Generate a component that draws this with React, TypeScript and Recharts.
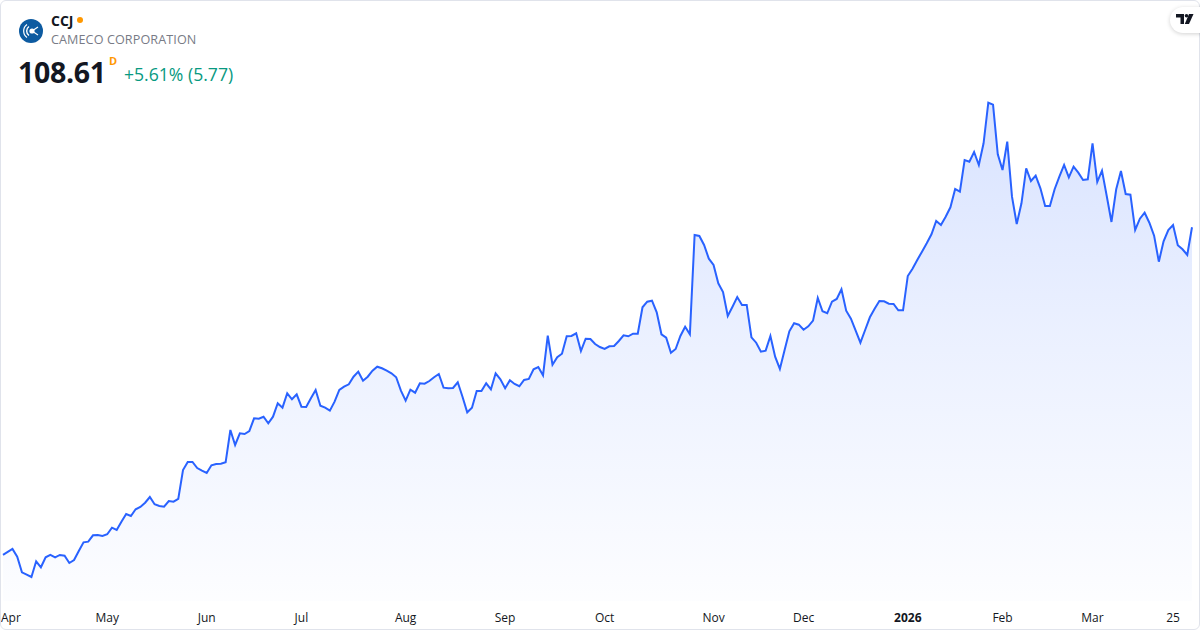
import React from 'react';
import { AreaChart, Area, XAxis, YAxis } from 'recharts';

// Daily closes of CCJ, Mar 31 2025 -> Mar 31 2026 (trading-day index)
const prices: number[] = [
  40.78, 41.40, 42.02, 40.42, 37.19, 36.72, 36.22, 39.47, 38.23, 40.30,
  40.78, 40.30, 40.78, 40.63, 39.12, 39.74, 41.60, 43.40, 43.53, 44.85,
  44.92, 44.71, 45.06, 46.43, 45.95, 47.67, 49.26, 48.85, 50.24, 50.71,
  51.60, 52.78, 51.27, 50.92, 50.77, 51.95, 51.81, 52.37, 58.37, 60.03,
  60.03, 58.78, 58.23, 57.75, 59.34, 59.61, 59.67, 59.96, 66.65, 63.55,
  65.97, 65.82, 66.44, 69.07, 68.99, 69.40, 68.04, 69.40, 72.18, 71.27,
  74.25, 73.01, 74.04, 71.47, 71.41, 73.21, 74.93, 71.68, 71.27, 70.65,
  72.51, 74.93, 75.61, 76.11, 77.68, 78.72, 76.86, 77.68, 78.93, 79.75,
  79.42, 78.93, 78.39, 77.56, 74.79, 72.72, 74.99, 74.37, 76.32, 76.23,
  76.79, 77.56, 78.24, 75.41, 75.28, 75.34, 76.52, 73.54, 70.31, 71.27,
  74.72, 74.72, 76.32, 75.08, 78.39, 77.15, 75.28, 76.94, 76.17, 75.70,
  77.00, 77.21, 79.22, 79.69, 77.97, 86.17, 80.17, 81.70, 82.44, 86.05,
  86.11, 86.67, 83.00, 85.55, 85.49, 84.45, 83.83, 83.42, 83.98, 84.04,
  85.07, 86.25, 86.05, 86.58, 86.58, 92.05, 93.21, 93.42, 91.01, 86.46,
  85.76, 82.65, 83.42, 86.11, 88.03, 86.46, 107.02, 106.81, 104.95, 102.11,
  100.81, 97.02, 95.22, 90.25, 92.17, 94.18, 92.53, 92.53, 85.84, 84.72,
  82.86, 83.07, 86.11, 81.82, 79.28, 83.21, 87.08, 88.74, 88.45, 87.41,
  88.12, 89.28, 93.97, 91.22, 90.81, 93.21, 93.77, 95.78, 91.35, 89.69,
  87.21, 84.72, 87.35, 89.98, 91.76, 93.35, 93.29, 92.79, 92.73, 91.43,
  91.43, 98.53, 100.04, 101.84, 103.56, 105.30, 107.16, 109.91, 109.09, 110.80,
  112.75, 116.54, 115.98, 122.54, 122.19, 124.20, 121.51, 126.00, 134.40, 133.99,
  123.72, 120.47, 126.33, 114.94, 109.29, 113.58, 120.82, 118.19, 119.29, 116.68,
  113.02, 113.02, 116.48, 119.08, 121.51, 118.96, 121.15, 119.91, 118.40, 118.55,
  126.00, 117.99, 120.33, 115.09, 109.71, 116.48, 120.26, 115.50, 115.36, 108.05,
  110.39, 111.63, 109.56, 106.87, 101.49, 105.71, 108.05, 109.09, 104.88, 104.06,
  102.88, 108.61,
];

const tickIdx: number[] = [1, 22, 43, 63, 85, 106, 127, 150, 169, 191, 211, 230, 247];
const tickLabels: string[] = ['Apr', 'May', 'Jun', 'Jul', 'Aug', 'Sep', 'Oct', 'Nov', 'Dec', '2026', 'Feb', 'Mar', '25'];
const boldLabels: string[] = ['2026'];

const symbol = 'CCJ';
const company = 'CAMECO CORPORATION';
const lastPrice = '108.61';
const change = '+5.61% (5.77)';

const data = prices.map((p, i) => ({ i, p }));

const FONT = '"Open Sans", "Noto Sans", sans-serif';

const Tick = (props: any) => {
  const { x, y, payload } = props;
  const k = tickIdx.indexOf(payload.value);
  const label = k >= 0 ? tickLabels[k] : '';
  const w = label.length * 7;
  const clampLeft = x - w / 2 < 1;
  return (
    <text
      x={clampLeft ? 1 : x}
      y={y + 13}
      textAnchor={clampLeft ? 'start' : 'middle'}
      fontSize={12}
      fontFamily={FONT}
      fontWeight={boldLabels.includes(label) ? 700 : 400}
      fill="#131722"
    >
      {label}
    </text>
  );
};

export default function App() {
  return (
    <div
      style={{
        position: 'relative',
        width: 1200,
        height: 630,
        background: '#ffffff',
        overflow: 'hidden',
        fontFamily: FONT,
      }}
    >
      <style>{'body{margin:0;}'}</style>
      <div
        style={{
          position: 'absolute',
          inset: 0,
          border: '1px solid #e0e3eb',
          borderRadius: 6,
          pointerEvents: 'none',
          zIndex: 3,
        }}
      />
      <div style={{ position: 'absolute', left: 0, top: 0 }}>
        <AreaChart width={1200} height={630} data={data} margin={{ top: 0, right: 8, bottom: 0, left: 3 }}>
          <defs>
            <linearGradient id="ccjFill" x1="0" y1="0" x2="0" y2="1">
              <stop offset="0%" stopColor="#2962FF" stopOpacity={0.3} />
              <stop offset="45%" stopColor="#2962FF" stopOpacity={0.16} />
              <stop offset="100%" stopColor="#2962FF" stopOpacity={0.02} />
            </linearGradient>
          </defs>
          <XAxis
            type="number"
            dataKey="i"
            domain={[0, 251]}
            ticks={tickIdx}
            interval={0}
            axisLine={false}
            tickLine={false}
            height={29}
            tick={<Tick />}
          />
          <YAxis hide domain={[31.25, 155.66]} allowDataOverflow />
          <Area
            type="linear"
            dataKey="p"
            stroke="#2962FF"
            strokeWidth={2}
            fill="url(#ccjFill)"
            isAnimationActive={false}
            dot={false}
            activeDot={false}
          />
        </AreaChart>
      </div>

      {/* header */}
      <svg style={{ position: 'absolute', left: 19, top: 19 }} width={24} height={24} viewBox="0 0 24 24">
        <circle cx={12} cy={12} r={12} fill="#0d5ba1" />
        <circle cx={13} cy={12} r={2.6} fill="#ffffff" />
        <path d="M10 7.5 A5.5 5.5 0 0 0 10 16.5" stroke="#ffffff" strokeWidth={1.4} fill="none" />
        <path d="M8 5.5 A8 8 0 0 0 8 18.5" stroke="#ffffff" strokeWidth={1.2} fill="none" />
        <path d="M13 12 L19 8 M13 12 L19 16" stroke="#ffffff" strokeWidth={1.1} fill="none" />
      </svg>
      <div style={{ position: 'absolute', left: 51, top: 11, fontSize: 14, fontWeight: 700, color: '#131722', lineHeight: '20px' }}>
        {symbol}
      </div>
      <div style={{ position: 'absolute', left: 77, top: 17, width: 6, height: 6, borderRadius: 3, background: '#ff9800' }} />
      <div style={{ position: 'absolute', left: 51, top: 31, fontSize: 12.6, color: '#787b86', lineHeight: '18px', letterSpacing: 0.1 }}>
        {company}
      </div>
      <div style={{ position: 'absolute', left: 18, top: 53, fontSize: 28.5, fontWeight: 700, color: '#131722', lineHeight: '38px', letterSpacing: -0.3 }}>
        {lastPrice}
      </div>
      <div style={{ position: 'absolute', left: 109, top: 54, fontSize: 11, fontWeight: 700, color: '#ff9800', lineHeight: '14px' }}>
        D
      </div>
      <div style={{ position: 'absolute', left: 124, top: 62, fontSize: 17.6, color: '#089981', lineHeight: '24px' }}>
        {change}
      </div>

      {/* logo pill */}
      <div
        style={{
          position: 'absolute',
          left: 1170,
          top: 7,
          width: 44,
          height: 26,
          borderRadius: 13,
          background: '#ffffff',
          boxShadow: '0 1px 4px rgba(0,0,0,0.18)',
          zIndex: 4,
        }}
      >
        <svg style={{ position: 'absolute', left: 6, top: 7 }} width={18} height={12} viewBox="0 0 18 12">
          <path d="M0 0 H8 V10 H4.5 V3.5 H0 Z" fill="#131722" />
          <circle cx={10.5} cy={1.8} r={1.8} fill="#131722" />
          <path d="M13 0 H17.5 L13 10 H8.8 Z" fill="#131722" />
        </svg>
      </div>
    </div>
  );
}
